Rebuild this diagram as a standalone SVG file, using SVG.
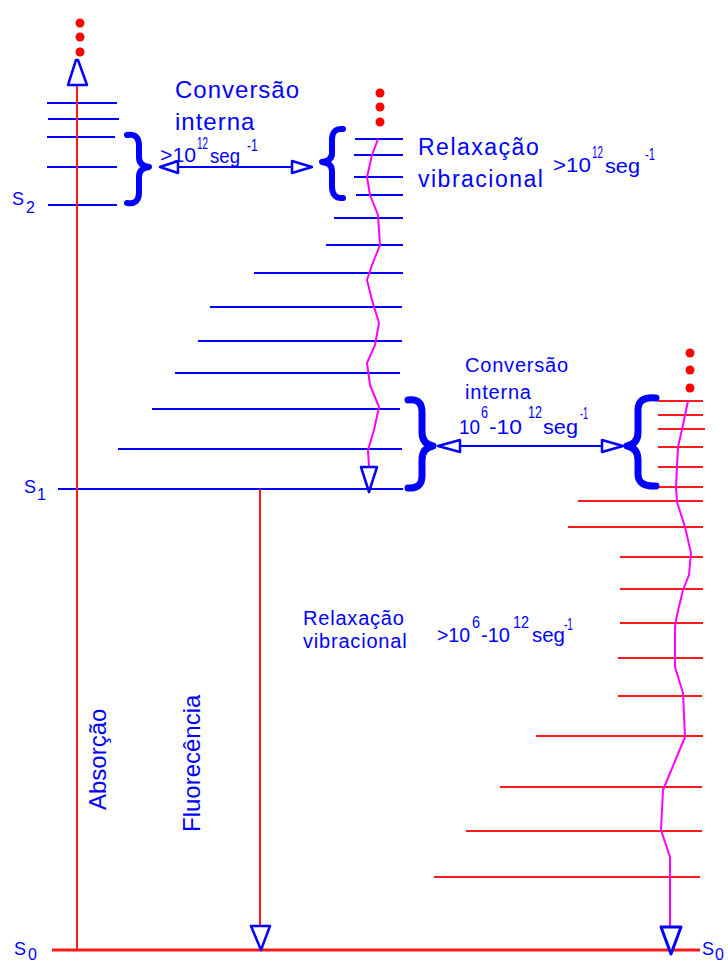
<svg xmlns="http://www.w3.org/2000/svg" width="728" height="964" viewBox="0 0 728 964">
<style>
.b{stroke:#0000ff;stroke-width:2;fill:none}
.r{stroke:#ff1a1a;stroke-width:2;fill:none}
.m{stroke:#ff00ff;stroke-width:2;fill:none;stroke-linejoin:round}
.br{stroke:#0000ff;stroke-width:6;fill:none;stroke-linecap:round;stroke-linejoin:round}
.ah{fill:#fff;stroke:#0000ff;stroke-width:2.5;stroke-linejoin:round}
.dot{fill:#ff0000}
text{font-family:"Liberation Sans",Arial,sans-serif;fill:#0000ff}
.t24{font-size:24px;letter-spacing:1px}
.t23{font-size:23px;letter-spacing:1.5px}
.t20{font-size:20px;letter-spacing:0.8px}
.n{font-size:21px}
.sup{font-size:16px}
.lab{font-size:18px}
.sub{font-size:16px}
</style>

<g id="S0">
  <line class="r" x1="52" y1="950" x2="700" y2="950" style="stroke-width:3"/>
  <text class="lab" x="14" y="955">S</text><text class="sub" x="28" y="960">0</text>
  <text class="lab" x="702" y="955">S</text><text class="sub" x="715" y="960">0</text>
</g>

<g id="S2-levels">
  <line class="b" x1="47" y1="103" x2="117" y2="103"/>
  <line class="b" x1="48" y1="119" x2="119" y2="119"/>
  <line class="b" x1="47" y1="137" x2="115" y2="137"/>
  <line class="b" x1="47" y1="167" x2="117" y2="167"/>
  <line class="b" x1="48" y1="205" x2="117" y2="205"/>
  <text class="lab" x="12" y="205">S</text><text class="sub" x="26" y="213">2</text>
  <circle class="dot" cx="80" cy="23" r="4.5"/>
  <circle class="dot" cx="80" cy="37" r="4.5"/>
  <circle class="dot" cx="80" cy="52" r="4.5"/>
</g>

<g id="S2-brace">
  <path class="br" d="M127,135 Q139,133 139,146 L139,157 Q139,166 149,167 Q139,168 139,177 L139,192 Q139,205 127,203"/>
</g>

<g id="S1-levels">
  <line class="b" x1="355" y1="139" x2="403" y2="139"/>
  <line class="b" x1="354" y1="155" x2="403" y2="155"/>
  <line class="b" x1="354" y1="177" x2="403" y2="177"/>
  <line class="b" x1="356" y1="195" x2="403" y2="195"/>
  <line class="b" x1="334" y1="218" x2="403" y2="218"/>
  <line class="b" x1="326" y1="245" x2="403" y2="245"/>
  <line class="b" x1="254" y1="273" x2="403" y2="273"/>
  <line class="b" x1="210" y1="307" x2="402" y2="307"/>
  <line class="b" x1="198" y1="341" x2="402" y2="341"/>
  <line class="b" x1="175" y1="373" x2="400" y2="373"/>
  <line class="b" x1="152" y1="409" x2="400" y2="409"/>
  <line class="b" x1="118" y1="449" x2="402" y2="449"/>
  <line class="b" x1="58" y1="489" x2="403" y2="489"/>
  <text class="lab" x="24" y="493">S</text><text class="sub" x="37" y="500">1</text>
  <circle class="dot" cx="380" cy="93" r="4.5"/>
  <circle class="dot" cx="380" cy="107" r="4.5"/>
  <circle class="dot" cx="380" cy="122" r="4.5"/>
</g>

<g id="S1-brace-top">
  <path class="br" d="M343,129 Q332,128 332,140 L332,153 Q332,161 322,162 Q332,163 332,171 L332,186 Q332,199 343,198"/>
</g>
<g id="S1-brace-bottom">
  <path class="br" style="stroke-width:7" d="M408,400 Q422,398 422,412 L422,432 Q422,444 433,446 Q422,448 422,460 L422,476 Q422,489 408,488"/>
</g>

<g id="S0-levels">
  <line class="r" x1="658" y1="401" x2="703" y2="401"/>
  <line class="r" x1="658" y1="415" x2="703" y2="415"/>
  <line class="r" x1="658" y1="429" x2="705" y2="429"/>
  <line class="r" x1="658" y1="447" x2="703" y2="447"/>
  <line class="r" x1="658" y1="467" x2="703" y2="467"/>
  <line class="r" x1="658" y1="487" x2="703" y2="487"/>
  <line class="r" x1="578" y1="501" x2="703" y2="501"/>
  <line class="r" x1="568" y1="527" x2="703" y2="527"/>
  <line class="r" x1="620" y1="557" x2="703" y2="557"/>
  <line class="r" x1="620" y1="589" x2="703" y2="589"/>
  <line class="r" x1="620" y1="623" x2="703" y2="623"/>
  <line class="r" x1="618" y1="658" x2="703" y2="658"/>
  <line class="r" x1="618" y1="696" x2="702" y2="696"/>
  <line class="r" x1="536" y1="736" x2="703" y2="736"/>
  <line class="r" x1="500" y1="787" x2="702" y2="787"/>
  <line class="r" x1="466" y1="831" x2="702" y2="831"/>
  <line class="r" x1="434" y1="877" x2="700" y2="877"/>
  <circle class="dot" cx="690" cy="353" r="4.5"/>
  <circle class="dot" cx="690" cy="370" r="4.5"/>
  <circle class="dot" cx="690" cy="388" r="4.5"/>
</g>

<g id="S0-brace">
  <path class="br" style="stroke-width:7" d="M656,398 Q638,396 638,410 L638,432 Q638,444 627,446 Q638,448 638,460 L638,474 Q638,487 656,486"/>
</g>

<g id="connectors">
  <line class="r" x1="77" y1="85" x2="77" y2="950"/>
  <polygon class="ah" points="76,60 78,60 87,85 68,85"/>
  <line class="r" x1="260" y1="489" x2="260" y2="926"/>
  <polygon class="ah" points="251,926 270,926 261,950"/>
  <line class="b" x1="162" y1="167" x2="310" y2="167"/>
  <polygon class="ah" points="160,167 178,161 178,173"/>
  <polygon class="ah" points="312,167 292,161 292,173"/>
  <line class="b" x1="440" y1="446" x2="621" y2="446"/>
  <polygon class="ah" points="438,446 460,440 460,452"/>
  <polygon class="ah" points="623,446 602,440 602,452"/>
  <polyline class="m" points="378,139 372,155 367,177 370,195 378,215 380,245 372,265 367,280 372,300 379,323 375,345 367,363 370,385 379,407 374,430 368,450 369,467"/>
  <polygon class="ah" points="361,467 377,467 369,492"/>
  <polyline class="m" points="688,401 683,425 678,447 676,487 677,502 685,527 691,553 689,575 683,590 677,615 675,627 675,667 683,693 685,737 663,790 661,830 670,857 670,927"/>
  <polygon class="ah" points="661,927 681,927 671,954" style="stroke-width:3"/>
</g>

<g id="labels">
  <text class="t24" x="175" y="98">Conversão</text>
  <text class="t24" x="175" y="130">interna</text>
  <text class="n" x="160" y="162" textLength="36" lengthAdjust="spacingAndGlyphs">&gt;10</text>
  <text class="sup" x="197" y="149" textLength="11" lengthAdjust="spacingAndGlyphs">12</text>
  <text class="n" x="210" y="163" textLength="30" lengthAdjust="spacingAndGlyphs">seg</text>
  <text class="sup" x="247" y="151" textLength="11" lengthAdjust="spacingAndGlyphs">-1</text>

  <text class="t23" x="418" y="155">Relaxação</text>
  <text class="t23" x="418" y="187">vibracional</text>
  <text class="n" x="553" y="172" textLength="38" lengthAdjust="spacingAndGlyphs">&gt;10</text>
  <text class="sup" x="592" y="158" textLength="11" lengthAdjust="spacingAndGlyphs">12</text>
  <text class="n" x="605" y="173" textLength="35" lengthAdjust="spacingAndGlyphs">seg</text>
  <text class="sup" x="645" y="160" textLength="10" lengthAdjust="spacingAndGlyphs">-1</text>

  <text class="t20" x="465" y="372">Conversão</text>
  <text class="t20" x="465" y="399">interna</text>
  <text class="n" x="459" y="434" textLength="21" lengthAdjust="spacingAndGlyphs">10</text>
  <text class="sup" x="481" y="418" textLength="7" lengthAdjust="spacingAndGlyphs">6</text>
  <text class="n" x="489" y="434" textLength="33" lengthAdjust="spacingAndGlyphs">-10</text>
  <text class="sup" x="528" y="418" textLength="14" lengthAdjust="spacingAndGlyphs">12</text>
  <text class="n" x="543" y="434" textLength="35" lengthAdjust="spacingAndGlyphs">seg</text>
  <text class="sup" x="580" y="419" textLength="8" lengthAdjust="spacingAndGlyphs">-1</text>

  <text class="t20" x="303" y="625">Relaxação</text>
  <text class="t20" x="303" y="648">vibracional</text>
  <text class="n" x="437" y="642" textLength="33" lengthAdjust="spacingAndGlyphs">&gt;10</text>
  <text class="sup" x="472" y="628" textLength="8" lengthAdjust="spacingAndGlyphs">6</text>
  <text class="n" x="481" y="642" textLength="29" lengthAdjust="spacingAndGlyphs">-10</text>
  <text class="sup" x="513" y="628" textLength="16" lengthAdjust="spacingAndGlyphs">12</text>
  <text class="n" x="532" y="642" textLength="33" lengthAdjust="spacingAndGlyphs">seg</text>
  <text class="sup" x="564" y="630" textLength="9" lengthAdjust="spacingAndGlyphs">-1</text>

  <text style="font-size:24px" transform="translate(106,810) rotate(-90)">Absorção</text>
  <text style="font-size:24px" transform="translate(200,832) rotate(-90)">Fluorecência</text>
</g>
</svg>
